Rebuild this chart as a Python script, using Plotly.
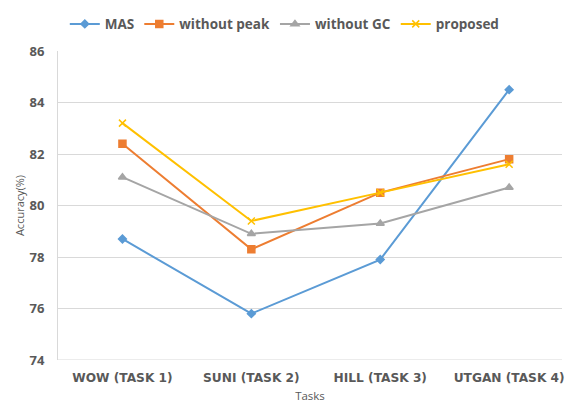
import plotly.graph_objects as go

tasks = ["WOW (TASK 1)", "SUNI (TASK 2)", "HILL (TASK 3)", "UTGAN (TASK 4)"]
mas = [78.7, 75.8, 77.9, 84.5]
without_peak = [82.4, 78.3, 80.5, 81.8]
without_gc = [81.1, 78.9, 79.3, 80.7]
proposed = [83.2, 79.4, 80.5, 81.6]

series = [
    ("MAS", mas, "#5B9BD5", "diamond", 6),
    ("without peak", without_peak, "#ED7D31", "square", 7),
    ("without GC", without_gc, "#A5A5A5", "triangle-up", 7),
    ("proposed", proposed, "#FFC000", "x-thin", 7),
]

fig = go.Figure()
for name, vals, color, sym, size in series:
    fig.add_trace(go.Scatter(
        x=tasks, y=vals, name=name, mode="lines+markers",
        line=dict(color=color, width=2),
        marker=dict(symbol=sym, size=size, color=color,
                    line=dict(color=color, width=1.5)),
    ))

txt = "#595959"
fig.update_layout(
    width=568, height=407,
    margin=dict(l=58, r=6, t=51, b=47, autoexpand=False),
    paper_bgcolor="white", plot_bgcolor="white",
    font=dict(family="Open Sans, sans-serif", color=txt),
    legend=dict(orientation="h", x=0.45, xanchor="center", y=1.087, yanchor="middle",
                font=dict(size=13.5, color=txt, family="Open Sans, sans-serif", weight="bold"),
                tracegroupgap=0),
    xaxis=dict(
        type="category", range=[-0.5, 3.41],
        showgrid=False, showline=False, zeroline=False,
        tickfont=dict(size=12.2, color=txt, family="DejaVu Sans", weight="bold"),
        title=dict(text="Tasks", font=dict(size=11.5, color=txt), standoff=7),
        ticks="", ticklabelstandoff=9, automargin=False, ticklabeloverflow="allow",
    ),
    yaxis=dict(
        range=[74, 86], dtick=2, tick0=74,
        showgrid=True, gridcolor="#D9D9D9", gridwidth=1,
        showline=True, linecolor="#D9D9D9", zeroline=False,
        tickfont=dict(size=13, color=txt, weight="bold"),
        title=dict(text="Accuracy(%)", font=dict(size=11, color=txt), standoff=2),
        ticks="", ticklabelstandoff=10, automargin=False,
    ),
    shapes=[dict(type="line", xref="x domain", yref="y", x0=0, x1=1, y0=74, y1=74,
                 line=dict(color="#D9D9D9", width=1))],
)

fig.write_html(
    "out.html",
    config={"displayModeBar": False},
    post_script="document.body.style.margin='0';document.body.style.overflow='hidden';",
)
